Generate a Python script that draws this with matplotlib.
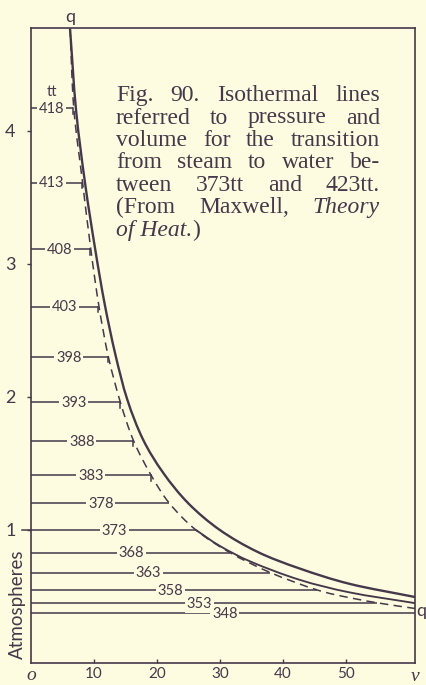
import numpy as np
import matplotlib.pyplot as plt
from matplotlib.path import Path
from matplotlib.patches import PathPatch

PAPER = "#fdfce0"
INK = "#45384a"
W_PX, H_PX = 426, 685

# isotherms (tt) and the pressure of each horizontal (atmospheres)
temps = [418, 413, 408, 403, 398, 393, 388, 383, 378, 373, 368, 363, 358, 353, 348]
pressures = [4.17, 3.61, 3.11, 2.68, 2.30, 1.96, 1.67, 1.41, 1.20, 1.00, 0.83, 0.68, 0.55, 0.45, 0.375]
# volume at which each horizontal meets the dashed curve
line_ends = [6.7, 8.1, 9.4, 10.6, 12.2, 14.1, 16.2, 19.1, 21.9, 26.2, 31.6, 38.0, 45.4, 55.0, 61.0]
label_v = [3.3, 3.3, 4.6, 5.4, 6.0, 6.8, 8.1, 9.5, 11.1, 13.2, 15.9, 18.6, 22.1, 26.7, 30.8]
n_hooks = 8

# dashed saturation curve
sat_v = [6.2, 6.8, 8.2, 9.5, 10.8, 12.3, 14.2, 16.3, 19.1, 22.0, 26.2, 31.6, 38.0, 45.4, 50.7, 56.0, 61.0]
sat_p = [4.77, 4.17, 3.61, 3.11, 2.68, 2.30, 1.96, 1.67, 1.41, 1.20, 1.00, 0.83, 0.68, 0.55, 0.49, 0.445, 0.41]

# heavy solid isotherm (423tt)
hot_v = [6.2, 7.15, 8.58, 10.2, 11.7, 13.4, 15.3, 17.8, 21.0, 25.0, 30.0, 36.0, 42.7, 50.7, 61.0]
hot_p = [4.77, 4.16, 3.61, 3.11, 2.70, 2.32, 1.98, 1.68, 1.43, 1.20, 1.00, 0.835, 0.71, 0.594, 0.496]

# 373tt isotherm continued into the vapour region
gas_v = [26.2, 30.0, 35.0, 42.7, 50.7, 61.0]
gas_p = [1.00, 0.88, 0.76, 0.625, 0.53, 0.45]

x_ticks = [10, 20, 30, 40, 50]
y_ticks = [1, 2, 3, 4]

caption = [
    [("Fig.", "normal"), ("90.", "normal"), ("Isothermal", "normal"), ("lines", "normal")],
    [("referred", "normal"), ("to", "normal"), ("pressure", "normal"), ("and", "normal")],
    [("volume", "normal"), ("for", "normal"), ("the", "normal"), ("transition", "normal")],
    [("from", "normal"), ("steam", "normal"), ("to", "normal"), ("water", "normal"), ("be-", "normal")],
    [("tween", "normal"), ("373tt", "normal"), ("and", "normal"), ("423tt.", "normal")],
    [("(From", "normal"), ("Maxwell,", "normal"), ("Theory", "italic")],
    [("of Heat.", "italic"), (")", "normal")],
]

SANS = ["Lato", "DejaVu Sans"]
SERIF = ["Liberation Serif", "DejaVu Serif"]


def curve_path(xs, ys):
    # Catmull-Rom through the read points, written as cubic Bezier segments
    pts = np.column_stack([xs, ys]).astype(float)
    ext = np.vstack([2 * pts[0] - pts[1], pts, 2 * pts[-1] - pts[-2]])
    verts = [pts[0]]
    codes = [Path.MOVETO]
    for i in range(1, len(ext) - 2):
        p0, p1, p2, p3 = ext[i - 1], ext[i], ext[i + 1], ext[i + 2]
        verts += [p1 + (p2 - p0) / 6, p2 - (p3 - p1) / 6, p2]
        codes += [Path.CURVE4] * 3
    return Path(verts, codes)


fig = plt.figure(figsize=(W_PX / 100, H_PX / 100), dpi=100, facecolor=PAPER)
ax = fig.add_axes([31 / W_PX, 1 - 663 / H_PX, (415 - 31) / W_PX, (663 - 28) / H_PX])
ax.set_facecolor(PAPER)
ax.set_xlim(0, 61)
ax.set_ylim(0, 4.774)

for s in ax.spines.values():
    s.set_color(INK)
    s.set_linewidth(1.2)

# horizontals with their temperature labels
for i, (t, p, v_end, lv) in enumerate(zip(temps, pressures, line_ends, label_v)):
    ax.plot([0, v_end], [p, p], color=INK, lw=1.1, solid_capstyle="butt")
    if i < n_hooks:
        ax.plot([v_end, v_end], [p, p - 0.04], color=INK, lw=1.1)
    ax.text(lv, p - 0.005, str(t), ha="center", va="center", fontsize=10.5,
            family=SANS, color=INK,
            bbox=dict(boxstyle="square,pad=0.12", fc=PAPER, ec="none"))

ax.add_patch(PathPatch(curve_path(sat_v, sat_p), fill=False, ec=INK, lw=1.1,
                       linestyle=(0, (5.5, 3.5))))
ax.add_patch(PathPatch(curve_path(hot_v, hot_p), fill=False, ec=INK, lw=1.7))
ax.add_patch(PathPatch(curve_path(gas_v, gas_p), fill=False, ec=INK, lw=1.35))

# axes ticks
ax.set_xticks(x_ticks)
ax.set_xticklabels([str(x) for x in x_ticks], family=SANS, fontsize=11, color=INK)
ax.set_yticks(y_ticks)
ax.set_yticklabels([str(y) for y in y_ticks], family=SANS, fontsize=13, color=INK)
ax.tick_params(axis="x", direction="in", length=3, width=1, color=INK, pad=3)
ax.tick_params(axis="y", direction="out", length=3, width=1, color=INK, pad=8)
ax.plot([-1.45, 0], [1, 1], color=INK, lw=1.1, clip_on=False)

ax.text(0.1, -0.095, "o", ha="center", va="center", fontsize=14, style="italic",
        family=SERIF, color=INK, clip_on=False)
ax.text(61, -0.1, "v", ha="center", va="center", fontsize=14, style="italic",
        family=SERIF, color=INK, clip_on=False)
ax.text(6.2, 4.80, "q", ha="center", va="bottom", fontsize=13,
        family=SANS, color=INK, clip_on=False)
ax.text(61.25, 0.39, "q", ha="left", va="center", fontsize=13,
        family=SANS, color=INK, clip_on=False)
ax.text(3.3, 4.29, "tt", ha="center", va="center", fontsize=10.5,
        family=SANS, color=INK)
fig.text(17 / W_PX, 1 - 604 / H_PX, "Atmospheres", rotation=90, ha="center",
         va="center", fontsize=13.5, family=SANS, color=INK)

# justified caption set word by word
renderer = fig.canvas.get_renderer()
x_left, x_right = 116, 380
base0, lead = 101, 22.5
for k, words in enumerate(caption):
    items = []
    for word, style in words:
        t = fig.text(0, 0, word, fontsize=17, family=SERIF, style=style,
                     color=INK, ha="left", va="baseline")
        items.append((t, t.get_window_extent(renderer).width))
    y = 1 - (base0 + k * lead) / H_PX
    total = sum(w for _, w in items)
    if k == len(caption) - 1:
        gap = [-0.5]
    else:
        g = (x_right - x_left - total) / (len(items) - 1)
        gap = [g] * (len(items) - 1)
    x = x_left
    for j, (t, w) in enumerate(items):
        t.set_position((x / W_PX, y))
        x += w + (gap[j] if j < len(gap) else 0)

fig.savefig("out.png", dpi=100, facecolor=PAPER)
